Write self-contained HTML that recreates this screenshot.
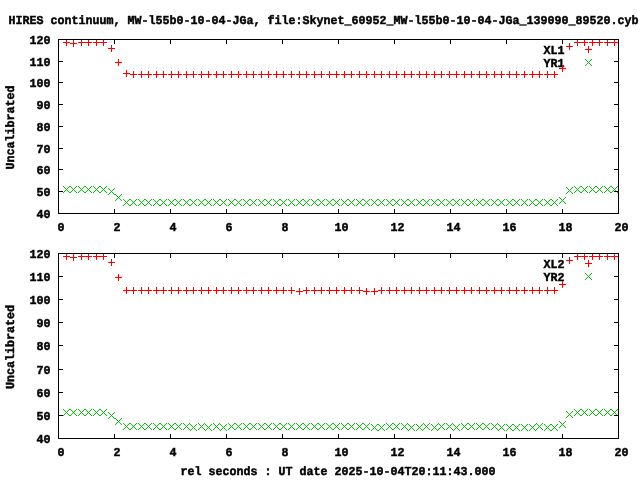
<!DOCTYPE html>
<html><head><meta charset="utf-8"><title>plot</title>
<style>
html,body{margin:0;padding:0;background:#fff;}
#wrap{position:relative;width:640px;height:480px;overflow:hidden;background:#fff;}
svg{display:block;position:absolute;left:0;top:0;}
#tx{will-change:transform;}
text{font-family:"Liberation Mono",monospace;font-weight:bold;font-size:11.67px;fill:#000;stroke:#000;stroke-width:0.45px;}
</style></head><body><div id="wrap">
<svg id="tx" width="640" height="480" viewBox="0 0 640 480">
<text transform="translate(8.5 24) scale(1 1.04) skewX(0.03)" textLength="630" lengthAdjust="spacing">HIRES continuum, MW-l55b0-10-04-JGa, file:Skynet_60952_MW-l55b0-10-04-JGa_139090_89520.cyb</text>
<text transform="translate(180.5 475) scale(1 1.04) skewX(0.03)" textLength="315" lengthAdjust="spacing">rel seconds : UT date 2025-10-04T20:11:43.000</text>
<text transform="translate(543.5 54) scale(1 1.04) skewX(0.03)" textLength="21" lengthAdjust="spacing">XL1</text>
<text transform="translate(543.5 67) scale(1 1.04) skewX(0.03)" textLength="21" lengthAdjust="spacing">YR1</text>
<text transform="translate(36.5 218) scale(1 1.04) skewX(0.03)" textLength="14" lengthAdjust="spacing">40</text>
<text transform="translate(36.5 196) scale(1 1.04) skewX(0.03)" textLength="14" lengthAdjust="spacing">50</text>
<text transform="translate(36.5 174) scale(1 1.04) skewX(0.03)" textLength="14" lengthAdjust="spacing">60</text>
<text transform="translate(36.5 153) scale(1 1.04) skewX(0.03)" textLength="14" lengthAdjust="spacing">70</text>
<text transform="translate(36.5 131) scale(1 1.04) skewX(0.03)" textLength="14" lengthAdjust="spacing">80</text>
<text transform="translate(36.5 109) scale(1 1.04) skewX(0.03)" textLength="14" lengthAdjust="spacing">90</text>
<text transform="translate(29.5 87) scale(1 1.04) skewX(0.03)" textLength="21" lengthAdjust="spacing">100</text>
<text transform="translate(29.5 66) scale(1 1.04) skewX(0.03)" textLength="21" lengthAdjust="spacing">110</text>
<text transform="translate(29.5 44) scale(1 1.04) skewX(0.03)" textLength="21" lengthAdjust="spacing">120</text>
<text transform="translate(57.5 231) scale(1 1.04) skewX(0.03)" textLength="7" lengthAdjust="spacing">0</text>
<text transform="translate(113.5 231) scale(1 1.04) skewX(0.03)" textLength="7" lengthAdjust="spacing">2</text>
<text transform="translate(169.5 231) scale(1 1.04) skewX(0.03)" textLength="7" lengthAdjust="spacing">4</text>
<text transform="translate(225.5 231) scale(1 1.04) skewX(0.03)" textLength="7" lengthAdjust="spacing">6</text>
<text transform="translate(281.5 231) scale(1 1.04) skewX(0.03)" textLength="7" lengthAdjust="spacing">8</text>
<text transform="translate(334.5 231) scale(1 1.04) skewX(0.03)" textLength="14" lengthAdjust="spacing">10</text>
<text transform="translate(390.5 231) scale(1 1.04) skewX(0.03)" textLength="14" lengthAdjust="spacing">12</text>
<text transform="translate(446.5 231) scale(1 1.04) skewX(0.03)" textLength="14" lengthAdjust="spacing">14</text>
<text transform="translate(502.5 231) scale(1 1.04) skewX(0.03)" textLength="14" lengthAdjust="spacing">16</text>
<text transform="translate(558.5 231) scale(1 1.04) skewX(0.03)" textLength="14" lengthAdjust="spacing">18</text>
<text transform="translate(614.5 231) scale(1 1.04) skewX(0.03)" textLength="14" lengthAdjust="spacing">20</text>
<text transform="translate(14 169.5) rotate(-90) scale(1 1.04) skewX(0.03)" textLength="84" lengthAdjust="spacing">Uncalibrated</text>
<text transform="translate(543.5 268) scale(1 1.04) skewX(0.03)" textLength="21" lengthAdjust="spacing">XL2</text>
<text transform="translate(543.5 281) scale(1 1.04) skewX(0.03)" textLength="21" lengthAdjust="spacing">YR2</text>
<text transform="translate(36.5 443) scale(1 1.04) skewX(0.03)" textLength="14" lengthAdjust="spacing">40</text>
<text transform="translate(36.5 420) scale(1 1.04) skewX(0.03)" textLength="14" lengthAdjust="spacing">50</text>
<text transform="translate(36.5 397) scale(1 1.04) skewX(0.03)" textLength="14" lengthAdjust="spacing">60</text>
<text transform="translate(36.5 374) scale(1 1.04) skewX(0.03)" textLength="14" lengthAdjust="spacing">70</text>
<text transform="translate(36.5 350) scale(1 1.04) skewX(0.03)" textLength="14" lengthAdjust="spacing">80</text>
<text transform="translate(36.5 327) scale(1 1.04) skewX(0.03)" textLength="14" lengthAdjust="spacing">90</text>
<text transform="translate(29.5 304) scale(1 1.04) skewX(0.03)" textLength="21" lengthAdjust="spacing">100</text>
<text transform="translate(29.5 281) scale(1 1.04) skewX(0.03)" textLength="21" lengthAdjust="spacing">110</text>
<text transform="translate(29.5 258) scale(1 1.04) skewX(0.03)" textLength="21" lengthAdjust="spacing">120</text>
<text transform="translate(57.5 456) scale(1 1.04) skewX(0.03)" textLength="7" lengthAdjust="spacing">0</text>
<text transform="translate(113.5 456) scale(1 1.04) skewX(0.03)" textLength="7" lengthAdjust="spacing">2</text>
<text transform="translate(169.5 456) scale(1 1.04) skewX(0.03)" textLength="7" lengthAdjust="spacing">4</text>
<text transform="translate(225.5 456) scale(1 1.04) skewX(0.03)" textLength="7" lengthAdjust="spacing">6</text>
<text transform="translate(281.5 456) scale(1 1.04) skewX(0.03)" textLength="7" lengthAdjust="spacing">8</text>
<text transform="translate(334.5 456) scale(1 1.04) skewX(0.03)" textLength="14" lengthAdjust="spacing">10</text>
<text transform="translate(390.5 456) scale(1 1.04) skewX(0.03)" textLength="14" lengthAdjust="spacing">12</text>
<text transform="translate(446.5 456) scale(1 1.04) skewX(0.03)" textLength="14" lengthAdjust="spacing">14</text>
<text transform="translate(502.5 456) scale(1 1.04) skewX(0.03)" textLength="14" lengthAdjust="spacing">16</text>
<text transform="translate(558.5 456) scale(1 1.04) skewX(0.03)" textLength="14" lengthAdjust="spacing">18</text>
<text transform="translate(614.5 456) scale(1 1.04) skewX(0.03)" textLength="14" lengthAdjust="spacing">20</text>
<text transform="translate(14 389.0) rotate(-90) scale(1 1.04) skewX(0.03)" textLength="84" lengthAdjust="spacing">Uncalibrated</text>
</svg>
<svg width="640" height="480" viewBox="0 0 640 480" shape-rendering="crispEdges">
<path fill="#ff0000" d="M63 42h7v1h-7zM66 39h1v7h-1z"/>
<path fill="#ff0000" d="M70 43h7v1h-7zM73 40h1v7h-1z"/>
<path fill="#ff0000" d="M78 42h7v1h-7zM81 39h1v7h-1z"/>
<path fill="#ff0000" d="M85 42h7v1h-7zM88 39h1v7h-1z"/>
<path fill="#ff0000" d="M93 42h7v1h-7zM96 39h1v7h-1z"/>
<path fill="#ff0000" d="M100 42h7v1h-7zM103 39h1v7h-1z"/>
<path fill="#ff0000" d="M108 48h7v1h-7zM111 45h1v7h-1z"/>
<path fill="#ff0000" d="M115 62h7v1h-7zM118 59h1v7h-1z"/>
<path fill="#ff0000" d="M123 73h7v1h-7zM126 70h1v7h-1z"/>
<path fill="#ff0000" d="M130 74h7v1h-7zM133 71h1v7h-1z"/>
<path fill="#ff0000" d="M138 74h7v1h-7zM141 71h1v7h-1z"/>
<path fill="#ff0000" d="M145 74h7v1h-7zM148 71h1v7h-1z"/>
<path fill="#ff0000" d="M153 74h7v1h-7zM156 71h1v7h-1z"/>
<path fill="#ff0000" d="M160 74h7v1h-7zM163 71h1v7h-1z"/>
<path fill="#ff0000" d="M168 74h7v1h-7zM171 71h1v7h-1z"/>
<path fill="#ff0000" d="M175 74h7v1h-7zM178 71h1v7h-1z"/>
<path fill="#ff0000" d="M183 74h7v1h-7zM186 71h1v7h-1z"/>
<path fill="#ff0000" d="M190 74h7v1h-7zM193 71h1v7h-1z"/>
<path fill="#ff0000" d="M198 74h7v1h-7zM201 71h1v7h-1z"/>
<path fill="#ff0000" d="M205 74h7v1h-7zM208 71h1v7h-1z"/>
<path fill="#ff0000" d="M213 74h7v1h-7zM216 71h1v7h-1z"/>
<path fill="#ff0000" d="M220 74h7v1h-7zM223 71h1v7h-1z"/>
<path fill="#ff0000" d="M228 74h7v1h-7zM231 71h1v7h-1z"/>
<path fill="#ff0000" d="M235 74h7v1h-7zM238 71h1v7h-1z"/>
<path fill="#ff0000" d="M243 74h7v1h-7zM246 71h1v7h-1z"/>
<path fill="#ff0000" d="M250 74h7v1h-7zM253 71h1v7h-1z"/>
<path fill="#ff0000" d="M258 74h7v1h-7zM261 71h1v7h-1z"/>
<path fill="#ff0000" d="M265 74h7v1h-7zM268 71h1v7h-1z"/>
<path fill="#ff0000" d="M273 74h7v1h-7zM276 71h1v7h-1z"/>
<path fill="#ff0000" d="M280 74h7v1h-7zM283 71h1v7h-1z"/>
<path fill="#ff0000" d="M288 74h7v1h-7zM291 71h1v7h-1z"/>
<path fill="#ff0000" d="M296 74h7v1h-7zM299 71h1v7h-1z"/>
<path fill="#ff0000" d="M303 74h7v1h-7zM306 71h1v7h-1z"/>
<path fill="#ff0000" d="M311 74h7v1h-7zM314 71h1v7h-1z"/>
<path fill="#ff0000" d="M318 74h7v1h-7zM321 71h1v7h-1z"/>
<path fill="#ff0000" d="M326 74h7v1h-7zM329 71h1v7h-1z"/>
<path fill="#ff0000" d="M333 74h7v1h-7zM336 71h1v7h-1z"/>
<path fill="#ff0000" d="M341 74h7v1h-7zM344 71h1v7h-1z"/>
<path fill="#ff0000" d="M348 74h7v1h-7zM351 71h1v7h-1z"/>
<path fill="#ff0000" d="M356 74h7v1h-7zM359 71h1v7h-1z"/>
<path fill="#ff0000" d="M363 74h7v1h-7zM366 71h1v7h-1z"/>
<path fill="#ff0000" d="M371 74h7v1h-7zM374 71h1v7h-1z"/>
<path fill="#ff0000" d="M378 74h7v1h-7zM381 71h1v7h-1z"/>
<path fill="#ff0000" d="M386 74h7v1h-7zM389 71h1v7h-1z"/>
<path fill="#ff0000" d="M393 74h7v1h-7zM396 71h1v7h-1z"/>
<path fill="#ff0000" d="M401 74h7v1h-7zM404 71h1v7h-1z"/>
<path fill="#ff0000" d="M408 74h7v1h-7zM411 71h1v7h-1z"/>
<path fill="#ff0000" d="M416 74h7v1h-7zM419 71h1v7h-1z"/>
<path fill="#ff0000" d="M423 74h7v1h-7zM426 71h1v7h-1z"/>
<path fill="#ff0000" d="M431 74h7v1h-7zM434 71h1v7h-1z"/>
<path fill="#ff0000" d="M438 74h7v1h-7zM441 71h1v7h-1z"/>
<path fill="#ff0000" d="M446 74h7v1h-7zM449 71h1v7h-1z"/>
<path fill="#ff0000" d="M453 74h7v1h-7zM456 71h1v7h-1z"/>
<path fill="#ff0000" d="M461 74h7v1h-7zM464 71h1v7h-1z"/>
<path fill="#ff0000" d="M468 74h7v1h-7zM471 71h1v7h-1z"/>
<path fill="#ff0000" d="M476 74h7v1h-7zM479 71h1v7h-1z"/>
<path fill="#ff0000" d="M483 74h7v1h-7zM486 71h1v7h-1z"/>
<path fill="#ff0000" d="M491 74h7v1h-7zM494 71h1v7h-1z"/>
<path fill="#ff0000" d="M498 74h7v1h-7zM501 71h1v7h-1z"/>
<path fill="#ff0000" d="M506 74h7v1h-7zM509 71h1v7h-1z"/>
<path fill="#ff0000" d="M513 74h7v1h-7zM516 71h1v7h-1z"/>
<path fill="#ff0000" d="M521 74h7v1h-7zM524 71h1v7h-1z"/>
<path fill="#ff0000" d="M529 74h7v1h-7zM532 71h1v7h-1z"/>
<path fill="#ff0000" d="M536 74h7v1h-7zM539 71h1v7h-1z"/>
<path fill="#ff0000" d="M544 74h7v1h-7zM547 71h1v7h-1z"/>
<path fill="#ff0000" d="M551 74h7v1h-7zM554 71h1v7h-1z"/>
<path fill="#ff0000" d="M559 68h7v1h-7zM562 65h1v7h-1z"/>
<path fill="#ff0000" d="M566 46h7v1h-7zM569 43h1v7h-1z"/>
<path fill="#ff0000" d="M574 42h7v1h-7zM577 39h1v7h-1z"/>
<path fill="#ff0000" d="M581 42h7v1h-7zM584 39h1v7h-1z"/>
<path fill="#ff0000" d="M589 42h7v1h-7zM592 39h1v7h-1z"/>
<path fill="#ff0000" d="M596 42h7v1h-7zM599 39h1v7h-1z"/>
<path fill="#ff0000" d="M604 42h7v1h-7zM607 39h1v7h-1z"/>
<path fill="#ff0000" d="M611 42h7v1h-7zM614 39h1v7h-1z"/>
<path fill="#00c000" d="M63 186h1v1h-1zM63 192h1v1h-1zM64 187h1v1h-1zM64 191h1v1h-1zM65 188h1v1h-1zM65 190h1v1h-1zM66 189h1v1h-1zM67 190h1v1h-1zM67 188h1v1h-1zM68 191h1v1h-1zM68 187h1v1h-1zM69 192h1v1h-1zM69 186h1v1h-1z"/>
<path fill="#00c000" d="M70 186h1v1h-1zM70 192h1v1h-1zM71 187h1v1h-1zM71 191h1v1h-1zM72 188h1v1h-1zM72 190h1v1h-1zM73 189h1v1h-1zM74 190h1v1h-1zM74 188h1v1h-1zM75 191h1v1h-1zM75 187h1v1h-1zM76 192h1v1h-1zM76 186h1v1h-1z"/>
<path fill="#00c000" d="M78 186h1v1h-1zM78 192h1v1h-1zM79 187h1v1h-1zM79 191h1v1h-1zM80 188h1v1h-1zM80 190h1v1h-1zM81 189h1v1h-1zM82 190h1v1h-1zM82 188h1v1h-1zM83 191h1v1h-1zM83 187h1v1h-1zM84 192h1v1h-1zM84 186h1v1h-1z"/>
<path fill="#00c000" d="M85 186h1v1h-1zM85 192h1v1h-1zM86 187h1v1h-1zM86 191h1v1h-1zM87 188h1v1h-1zM87 190h1v1h-1zM88 189h1v1h-1zM89 190h1v1h-1zM89 188h1v1h-1zM90 191h1v1h-1zM90 187h1v1h-1zM91 192h1v1h-1zM91 186h1v1h-1z"/>
<path fill="#00c000" d="M93 186h1v1h-1zM93 192h1v1h-1zM94 187h1v1h-1zM94 191h1v1h-1zM95 188h1v1h-1zM95 190h1v1h-1zM96 189h1v1h-1zM97 190h1v1h-1zM97 188h1v1h-1zM98 191h1v1h-1zM98 187h1v1h-1zM99 192h1v1h-1zM99 186h1v1h-1z"/>
<path fill="#00c000" d="M100 186h1v1h-1zM100 192h1v1h-1zM101 187h1v1h-1zM101 191h1v1h-1zM102 188h1v1h-1zM102 190h1v1h-1zM103 189h1v1h-1zM104 190h1v1h-1zM104 188h1v1h-1zM105 191h1v1h-1zM105 187h1v1h-1zM106 192h1v1h-1zM106 186h1v1h-1z"/>
<path fill="#00c000" d="M108 188h1v1h-1zM108 194h1v1h-1zM109 189h1v1h-1zM109 193h1v1h-1zM110 190h1v1h-1zM110 192h1v1h-1zM111 191h1v1h-1zM112 192h1v1h-1zM112 190h1v1h-1zM113 193h1v1h-1zM113 189h1v1h-1zM114 194h1v1h-1zM114 188h1v1h-1z"/>
<path fill="#00c000" d="M115 194h1v1h-1zM115 200h1v1h-1zM116 195h1v1h-1zM116 199h1v1h-1zM117 196h1v1h-1zM117 198h1v1h-1zM118 197h1v1h-1zM119 198h1v1h-1zM119 196h1v1h-1zM120 199h1v1h-1zM120 195h1v1h-1zM121 200h1v1h-1zM121 194h1v1h-1z"/>
<path fill="#00c000" d="M123 199h1v1h-1zM123 205h1v1h-1zM124 200h1v1h-1zM124 204h1v1h-1zM125 201h1v1h-1zM125 203h1v1h-1zM126 202h1v1h-1zM127 203h1v1h-1zM127 201h1v1h-1zM128 204h1v1h-1zM128 200h1v1h-1zM129 205h1v1h-1zM129 199h1v1h-1z"/>
<path fill="#00c000" d="M130 199h1v1h-1zM130 205h1v1h-1zM131 200h1v1h-1zM131 204h1v1h-1zM132 201h1v1h-1zM132 203h1v1h-1zM133 202h1v1h-1zM134 203h1v1h-1zM134 201h1v1h-1zM135 204h1v1h-1zM135 200h1v1h-1zM136 205h1v1h-1zM136 199h1v1h-1z"/>
<path fill="#00c000" d="M138 199h1v1h-1zM138 205h1v1h-1zM139 200h1v1h-1zM139 204h1v1h-1zM140 201h1v1h-1zM140 203h1v1h-1zM141 202h1v1h-1zM142 203h1v1h-1zM142 201h1v1h-1zM143 204h1v1h-1zM143 200h1v1h-1zM144 205h1v1h-1zM144 199h1v1h-1z"/>
<path fill="#00c000" d="M145 199h1v1h-1zM145 205h1v1h-1zM146 200h1v1h-1zM146 204h1v1h-1zM147 201h1v1h-1zM147 203h1v1h-1zM148 202h1v1h-1zM149 203h1v1h-1zM149 201h1v1h-1zM150 204h1v1h-1zM150 200h1v1h-1zM151 205h1v1h-1zM151 199h1v1h-1z"/>
<path fill="#00c000" d="M153 199h1v1h-1zM153 205h1v1h-1zM154 200h1v1h-1zM154 204h1v1h-1zM155 201h1v1h-1zM155 203h1v1h-1zM156 202h1v1h-1zM157 203h1v1h-1zM157 201h1v1h-1zM158 204h1v1h-1zM158 200h1v1h-1zM159 205h1v1h-1zM159 199h1v1h-1z"/>
<path fill="#00c000" d="M160 199h1v1h-1zM160 205h1v1h-1zM161 200h1v1h-1zM161 204h1v1h-1zM162 201h1v1h-1zM162 203h1v1h-1zM163 202h1v1h-1zM164 203h1v1h-1zM164 201h1v1h-1zM165 204h1v1h-1zM165 200h1v1h-1zM166 205h1v1h-1zM166 199h1v1h-1z"/>
<path fill="#00c000" d="M168 199h1v1h-1zM168 205h1v1h-1zM169 200h1v1h-1zM169 204h1v1h-1zM170 201h1v1h-1zM170 203h1v1h-1zM171 202h1v1h-1zM172 203h1v1h-1zM172 201h1v1h-1zM173 204h1v1h-1zM173 200h1v1h-1zM174 205h1v1h-1zM174 199h1v1h-1z"/>
<path fill="#00c000" d="M175 199h1v1h-1zM175 205h1v1h-1zM176 200h1v1h-1zM176 204h1v1h-1zM177 201h1v1h-1zM177 203h1v1h-1zM178 202h1v1h-1zM179 203h1v1h-1zM179 201h1v1h-1zM180 204h1v1h-1zM180 200h1v1h-1zM181 205h1v1h-1zM181 199h1v1h-1z"/>
<path fill="#00c000" d="M183 199h1v1h-1zM183 205h1v1h-1zM184 200h1v1h-1zM184 204h1v1h-1zM185 201h1v1h-1zM185 203h1v1h-1zM186 202h1v1h-1zM187 203h1v1h-1zM187 201h1v1h-1zM188 204h1v1h-1zM188 200h1v1h-1zM189 205h1v1h-1zM189 199h1v1h-1z"/>
<path fill="#00c000" d="M190 199h1v1h-1zM190 205h1v1h-1zM191 200h1v1h-1zM191 204h1v1h-1zM192 201h1v1h-1zM192 203h1v1h-1zM193 202h1v1h-1zM194 203h1v1h-1zM194 201h1v1h-1zM195 204h1v1h-1zM195 200h1v1h-1zM196 205h1v1h-1zM196 199h1v1h-1z"/>
<path fill="#00c000" d="M198 199h1v1h-1zM198 205h1v1h-1zM199 200h1v1h-1zM199 204h1v1h-1zM200 201h1v1h-1zM200 203h1v1h-1zM201 202h1v1h-1zM202 203h1v1h-1zM202 201h1v1h-1zM203 204h1v1h-1zM203 200h1v1h-1zM204 205h1v1h-1zM204 199h1v1h-1z"/>
<path fill="#00c000" d="M205 199h1v1h-1zM205 205h1v1h-1zM206 200h1v1h-1zM206 204h1v1h-1zM207 201h1v1h-1zM207 203h1v1h-1zM208 202h1v1h-1zM209 203h1v1h-1zM209 201h1v1h-1zM210 204h1v1h-1zM210 200h1v1h-1zM211 205h1v1h-1zM211 199h1v1h-1z"/>
<path fill="#00c000" d="M213 199h1v1h-1zM213 205h1v1h-1zM214 200h1v1h-1zM214 204h1v1h-1zM215 201h1v1h-1zM215 203h1v1h-1zM216 202h1v1h-1zM217 203h1v1h-1zM217 201h1v1h-1zM218 204h1v1h-1zM218 200h1v1h-1zM219 205h1v1h-1zM219 199h1v1h-1z"/>
<path fill="#00c000" d="M220 199h1v1h-1zM220 205h1v1h-1zM221 200h1v1h-1zM221 204h1v1h-1zM222 201h1v1h-1zM222 203h1v1h-1zM223 202h1v1h-1zM224 203h1v1h-1zM224 201h1v1h-1zM225 204h1v1h-1zM225 200h1v1h-1zM226 205h1v1h-1zM226 199h1v1h-1z"/>
<path fill="#00c000" d="M228 199h1v1h-1zM228 205h1v1h-1zM229 200h1v1h-1zM229 204h1v1h-1zM230 201h1v1h-1zM230 203h1v1h-1zM231 202h1v1h-1zM232 203h1v1h-1zM232 201h1v1h-1zM233 204h1v1h-1zM233 200h1v1h-1zM234 205h1v1h-1zM234 199h1v1h-1z"/>
<path fill="#00c000" d="M235 199h1v1h-1zM235 205h1v1h-1zM236 200h1v1h-1zM236 204h1v1h-1zM237 201h1v1h-1zM237 203h1v1h-1zM238 202h1v1h-1zM239 203h1v1h-1zM239 201h1v1h-1zM240 204h1v1h-1zM240 200h1v1h-1zM241 205h1v1h-1zM241 199h1v1h-1z"/>
<path fill="#00c000" d="M243 199h1v1h-1zM243 205h1v1h-1zM244 200h1v1h-1zM244 204h1v1h-1zM245 201h1v1h-1zM245 203h1v1h-1zM246 202h1v1h-1zM247 203h1v1h-1zM247 201h1v1h-1zM248 204h1v1h-1zM248 200h1v1h-1zM249 205h1v1h-1zM249 199h1v1h-1z"/>
<path fill="#00c000" d="M250 199h1v1h-1zM250 205h1v1h-1zM251 200h1v1h-1zM251 204h1v1h-1zM252 201h1v1h-1zM252 203h1v1h-1zM253 202h1v1h-1zM254 203h1v1h-1zM254 201h1v1h-1zM255 204h1v1h-1zM255 200h1v1h-1zM256 205h1v1h-1zM256 199h1v1h-1z"/>
<path fill="#00c000" d="M258 199h1v1h-1zM258 205h1v1h-1zM259 200h1v1h-1zM259 204h1v1h-1zM260 201h1v1h-1zM260 203h1v1h-1zM261 202h1v1h-1zM262 203h1v1h-1zM262 201h1v1h-1zM263 204h1v1h-1zM263 200h1v1h-1zM264 205h1v1h-1zM264 199h1v1h-1z"/>
<path fill="#00c000" d="M265 199h1v1h-1zM265 205h1v1h-1zM266 200h1v1h-1zM266 204h1v1h-1zM267 201h1v1h-1zM267 203h1v1h-1zM268 202h1v1h-1zM269 203h1v1h-1zM269 201h1v1h-1zM270 204h1v1h-1zM270 200h1v1h-1zM271 205h1v1h-1zM271 199h1v1h-1z"/>
<path fill="#00c000" d="M273 199h1v1h-1zM273 205h1v1h-1zM274 200h1v1h-1zM274 204h1v1h-1zM275 201h1v1h-1zM275 203h1v1h-1zM276 202h1v1h-1zM277 203h1v1h-1zM277 201h1v1h-1zM278 204h1v1h-1zM278 200h1v1h-1zM279 205h1v1h-1zM279 199h1v1h-1z"/>
<path fill="#00c000" d="M280 199h1v1h-1zM280 205h1v1h-1zM281 200h1v1h-1zM281 204h1v1h-1zM282 201h1v1h-1zM282 203h1v1h-1zM283 202h1v1h-1zM284 203h1v1h-1zM284 201h1v1h-1zM285 204h1v1h-1zM285 200h1v1h-1zM286 205h1v1h-1zM286 199h1v1h-1z"/>
<path fill="#00c000" d="M288 199h1v1h-1zM288 205h1v1h-1zM289 200h1v1h-1zM289 204h1v1h-1zM290 201h1v1h-1zM290 203h1v1h-1zM291 202h1v1h-1zM292 203h1v1h-1zM292 201h1v1h-1zM293 204h1v1h-1zM293 200h1v1h-1zM294 205h1v1h-1zM294 199h1v1h-1z"/>
<path fill="#00c000" d="M296 199h1v1h-1zM296 205h1v1h-1zM297 200h1v1h-1zM297 204h1v1h-1zM298 201h1v1h-1zM298 203h1v1h-1zM299 202h1v1h-1zM300 203h1v1h-1zM300 201h1v1h-1zM301 204h1v1h-1zM301 200h1v1h-1zM302 205h1v1h-1zM302 199h1v1h-1z"/>
<path fill="#00c000" d="M303 199h1v1h-1zM303 205h1v1h-1zM304 200h1v1h-1zM304 204h1v1h-1zM305 201h1v1h-1zM305 203h1v1h-1zM306 202h1v1h-1zM307 203h1v1h-1zM307 201h1v1h-1zM308 204h1v1h-1zM308 200h1v1h-1zM309 205h1v1h-1zM309 199h1v1h-1z"/>
<path fill="#00c000" d="M311 199h1v1h-1zM311 205h1v1h-1zM312 200h1v1h-1zM312 204h1v1h-1zM313 201h1v1h-1zM313 203h1v1h-1zM314 202h1v1h-1zM315 203h1v1h-1zM315 201h1v1h-1zM316 204h1v1h-1zM316 200h1v1h-1zM317 205h1v1h-1zM317 199h1v1h-1z"/>
<path fill="#00c000" d="M318 199h1v1h-1zM318 205h1v1h-1zM319 200h1v1h-1zM319 204h1v1h-1zM320 201h1v1h-1zM320 203h1v1h-1zM321 202h1v1h-1zM322 203h1v1h-1zM322 201h1v1h-1zM323 204h1v1h-1zM323 200h1v1h-1zM324 205h1v1h-1zM324 199h1v1h-1z"/>
<path fill="#00c000" d="M326 199h1v1h-1zM326 205h1v1h-1zM327 200h1v1h-1zM327 204h1v1h-1zM328 201h1v1h-1zM328 203h1v1h-1zM329 202h1v1h-1zM330 203h1v1h-1zM330 201h1v1h-1zM331 204h1v1h-1zM331 200h1v1h-1zM332 205h1v1h-1zM332 199h1v1h-1z"/>
<path fill="#00c000" d="M333 199h1v1h-1zM333 205h1v1h-1zM334 200h1v1h-1zM334 204h1v1h-1zM335 201h1v1h-1zM335 203h1v1h-1zM336 202h1v1h-1zM337 203h1v1h-1zM337 201h1v1h-1zM338 204h1v1h-1zM338 200h1v1h-1zM339 205h1v1h-1zM339 199h1v1h-1z"/>
<path fill="#00c000" d="M341 199h1v1h-1zM341 205h1v1h-1zM342 200h1v1h-1zM342 204h1v1h-1zM343 201h1v1h-1zM343 203h1v1h-1zM344 202h1v1h-1zM345 203h1v1h-1zM345 201h1v1h-1zM346 204h1v1h-1zM346 200h1v1h-1zM347 205h1v1h-1zM347 199h1v1h-1z"/>
<path fill="#00c000" d="M348 199h1v1h-1zM348 205h1v1h-1zM349 200h1v1h-1zM349 204h1v1h-1zM350 201h1v1h-1zM350 203h1v1h-1zM351 202h1v1h-1zM352 203h1v1h-1zM352 201h1v1h-1zM353 204h1v1h-1zM353 200h1v1h-1zM354 205h1v1h-1zM354 199h1v1h-1z"/>
<path fill="#00c000" d="M356 199h1v1h-1zM356 205h1v1h-1zM357 200h1v1h-1zM357 204h1v1h-1zM358 201h1v1h-1zM358 203h1v1h-1zM359 202h1v1h-1zM360 203h1v1h-1zM360 201h1v1h-1zM361 204h1v1h-1zM361 200h1v1h-1zM362 205h1v1h-1zM362 199h1v1h-1z"/>
<path fill="#00c000" d="M363 199h1v1h-1zM363 205h1v1h-1zM364 200h1v1h-1zM364 204h1v1h-1zM365 201h1v1h-1zM365 203h1v1h-1zM366 202h1v1h-1zM367 203h1v1h-1zM367 201h1v1h-1zM368 204h1v1h-1zM368 200h1v1h-1zM369 205h1v1h-1zM369 199h1v1h-1z"/>
<path fill="#00c000" d="M371 199h1v1h-1zM371 205h1v1h-1zM372 200h1v1h-1zM372 204h1v1h-1zM373 201h1v1h-1zM373 203h1v1h-1zM374 202h1v1h-1zM375 203h1v1h-1zM375 201h1v1h-1zM376 204h1v1h-1zM376 200h1v1h-1zM377 205h1v1h-1zM377 199h1v1h-1z"/>
<path fill="#00c000" d="M378 199h1v1h-1zM378 205h1v1h-1zM379 200h1v1h-1zM379 204h1v1h-1zM380 201h1v1h-1zM380 203h1v1h-1zM381 202h1v1h-1zM382 203h1v1h-1zM382 201h1v1h-1zM383 204h1v1h-1zM383 200h1v1h-1zM384 205h1v1h-1zM384 199h1v1h-1z"/>
<path fill="#00c000" d="M386 199h1v1h-1zM386 205h1v1h-1zM387 200h1v1h-1zM387 204h1v1h-1zM388 201h1v1h-1zM388 203h1v1h-1zM389 202h1v1h-1zM390 203h1v1h-1zM390 201h1v1h-1zM391 204h1v1h-1zM391 200h1v1h-1zM392 205h1v1h-1zM392 199h1v1h-1z"/>
<path fill="#00c000" d="M393 199h1v1h-1zM393 205h1v1h-1zM394 200h1v1h-1zM394 204h1v1h-1zM395 201h1v1h-1zM395 203h1v1h-1zM396 202h1v1h-1zM397 203h1v1h-1zM397 201h1v1h-1zM398 204h1v1h-1zM398 200h1v1h-1zM399 205h1v1h-1zM399 199h1v1h-1z"/>
<path fill="#00c000" d="M401 199h1v1h-1zM401 205h1v1h-1zM402 200h1v1h-1zM402 204h1v1h-1zM403 201h1v1h-1zM403 203h1v1h-1zM404 202h1v1h-1zM405 203h1v1h-1zM405 201h1v1h-1zM406 204h1v1h-1zM406 200h1v1h-1zM407 205h1v1h-1zM407 199h1v1h-1z"/>
<path fill="#00c000" d="M408 199h1v1h-1zM408 205h1v1h-1zM409 200h1v1h-1zM409 204h1v1h-1zM410 201h1v1h-1zM410 203h1v1h-1zM411 202h1v1h-1zM412 203h1v1h-1zM412 201h1v1h-1zM413 204h1v1h-1zM413 200h1v1h-1zM414 205h1v1h-1zM414 199h1v1h-1z"/>
<path fill="#00c000" d="M416 199h1v1h-1zM416 205h1v1h-1zM417 200h1v1h-1zM417 204h1v1h-1zM418 201h1v1h-1zM418 203h1v1h-1zM419 202h1v1h-1zM420 203h1v1h-1zM420 201h1v1h-1zM421 204h1v1h-1zM421 200h1v1h-1zM422 205h1v1h-1zM422 199h1v1h-1z"/>
<path fill="#00c000" d="M423 199h1v1h-1zM423 205h1v1h-1zM424 200h1v1h-1zM424 204h1v1h-1zM425 201h1v1h-1zM425 203h1v1h-1zM426 202h1v1h-1zM427 203h1v1h-1zM427 201h1v1h-1zM428 204h1v1h-1zM428 200h1v1h-1zM429 205h1v1h-1zM429 199h1v1h-1z"/>
<path fill="#00c000" d="M431 199h1v1h-1zM431 205h1v1h-1zM432 200h1v1h-1zM432 204h1v1h-1zM433 201h1v1h-1zM433 203h1v1h-1zM434 202h1v1h-1zM435 203h1v1h-1zM435 201h1v1h-1zM436 204h1v1h-1zM436 200h1v1h-1zM437 205h1v1h-1zM437 199h1v1h-1z"/>
<path fill="#00c000" d="M438 199h1v1h-1zM438 205h1v1h-1zM439 200h1v1h-1zM439 204h1v1h-1zM440 201h1v1h-1zM440 203h1v1h-1zM441 202h1v1h-1zM442 203h1v1h-1zM442 201h1v1h-1zM443 204h1v1h-1zM443 200h1v1h-1zM444 205h1v1h-1zM444 199h1v1h-1z"/>
<path fill="#00c000" d="M446 199h1v1h-1zM446 205h1v1h-1zM447 200h1v1h-1zM447 204h1v1h-1zM448 201h1v1h-1zM448 203h1v1h-1zM449 202h1v1h-1zM450 203h1v1h-1zM450 201h1v1h-1zM451 204h1v1h-1zM451 200h1v1h-1zM452 205h1v1h-1zM452 199h1v1h-1z"/>
<path fill="#00c000" d="M453 199h1v1h-1zM453 205h1v1h-1zM454 200h1v1h-1zM454 204h1v1h-1zM455 201h1v1h-1zM455 203h1v1h-1zM456 202h1v1h-1zM457 203h1v1h-1zM457 201h1v1h-1zM458 204h1v1h-1zM458 200h1v1h-1zM459 205h1v1h-1zM459 199h1v1h-1z"/>
<path fill="#00c000" d="M461 199h1v1h-1zM461 205h1v1h-1zM462 200h1v1h-1zM462 204h1v1h-1zM463 201h1v1h-1zM463 203h1v1h-1zM464 202h1v1h-1zM465 203h1v1h-1zM465 201h1v1h-1zM466 204h1v1h-1zM466 200h1v1h-1zM467 205h1v1h-1zM467 199h1v1h-1z"/>
<path fill="#00c000" d="M468 199h1v1h-1zM468 205h1v1h-1zM469 200h1v1h-1zM469 204h1v1h-1zM470 201h1v1h-1zM470 203h1v1h-1zM471 202h1v1h-1zM472 203h1v1h-1zM472 201h1v1h-1zM473 204h1v1h-1zM473 200h1v1h-1zM474 205h1v1h-1zM474 199h1v1h-1z"/>
<path fill="#00c000" d="M476 199h1v1h-1zM476 205h1v1h-1zM477 200h1v1h-1zM477 204h1v1h-1zM478 201h1v1h-1zM478 203h1v1h-1zM479 202h1v1h-1zM480 203h1v1h-1zM480 201h1v1h-1zM481 204h1v1h-1zM481 200h1v1h-1zM482 205h1v1h-1zM482 199h1v1h-1z"/>
<path fill="#00c000" d="M483 199h1v1h-1zM483 205h1v1h-1zM484 200h1v1h-1zM484 204h1v1h-1zM485 201h1v1h-1zM485 203h1v1h-1zM486 202h1v1h-1zM487 203h1v1h-1zM487 201h1v1h-1zM488 204h1v1h-1zM488 200h1v1h-1zM489 205h1v1h-1zM489 199h1v1h-1z"/>
<path fill="#00c000" d="M491 199h1v1h-1zM491 205h1v1h-1zM492 200h1v1h-1zM492 204h1v1h-1zM493 201h1v1h-1zM493 203h1v1h-1zM494 202h1v1h-1zM495 203h1v1h-1zM495 201h1v1h-1zM496 204h1v1h-1zM496 200h1v1h-1zM497 205h1v1h-1zM497 199h1v1h-1z"/>
<path fill="#00c000" d="M498 199h1v1h-1zM498 205h1v1h-1zM499 200h1v1h-1zM499 204h1v1h-1zM500 201h1v1h-1zM500 203h1v1h-1zM501 202h1v1h-1zM502 203h1v1h-1zM502 201h1v1h-1zM503 204h1v1h-1zM503 200h1v1h-1zM504 205h1v1h-1zM504 199h1v1h-1z"/>
<path fill="#00c000" d="M506 199h1v1h-1zM506 205h1v1h-1zM507 200h1v1h-1zM507 204h1v1h-1zM508 201h1v1h-1zM508 203h1v1h-1zM509 202h1v1h-1zM510 203h1v1h-1zM510 201h1v1h-1zM511 204h1v1h-1zM511 200h1v1h-1zM512 205h1v1h-1zM512 199h1v1h-1z"/>
<path fill="#00c000" d="M513 199h1v1h-1zM513 205h1v1h-1zM514 200h1v1h-1zM514 204h1v1h-1zM515 201h1v1h-1zM515 203h1v1h-1zM516 202h1v1h-1zM517 203h1v1h-1zM517 201h1v1h-1zM518 204h1v1h-1zM518 200h1v1h-1zM519 205h1v1h-1zM519 199h1v1h-1z"/>
<path fill="#00c000" d="M521 199h1v1h-1zM521 205h1v1h-1zM522 200h1v1h-1zM522 204h1v1h-1zM523 201h1v1h-1zM523 203h1v1h-1zM524 202h1v1h-1zM525 203h1v1h-1zM525 201h1v1h-1zM526 204h1v1h-1zM526 200h1v1h-1zM527 205h1v1h-1zM527 199h1v1h-1z"/>
<path fill="#00c000" d="M529 199h1v1h-1zM529 205h1v1h-1zM530 200h1v1h-1zM530 204h1v1h-1zM531 201h1v1h-1zM531 203h1v1h-1zM532 202h1v1h-1zM533 203h1v1h-1zM533 201h1v1h-1zM534 204h1v1h-1zM534 200h1v1h-1zM535 205h1v1h-1zM535 199h1v1h-1z"/>
<path fill="#00c000" d="M536 199h1v1h-1zM536 205h1v1h-1zM537 200h1v1h-1zM537 204h1v1h-1zM538 201h1v1h-1zM538 203h1v1h-1zM539 202h1v1h-1zM540 203h1v1h-1zM540 201h1v1h-1zM541 204h1v1h-1zM541 200h1v1h-1zM542 205h1v1h-1zM542 199h1v1h-1z"/>
<path fill="#00c000" d="M544 199h1v1h-1zM544 205h1v1h-1zM545 200h1v1h-1zM545 204h1v1h-1zM546 201h1v1h-1zM546 203h1v1h-1zM547 202h1v1h-1zM548 203h1v1h-1zM548 201h1v1h-1zM549 204h1v1h-1zM549 200h1v1h-1zM550 205h1v1h-1zM550 199h1v1h-1z"/>
<path fill="#00c000" d="M551 199h1v1h-1zM551 205h1v1h-1zM552 200h1v1h-1zM552 204h1v1h-1zM553 201h1v1h-1zM553 203h1v1h-1zM554 202h1v1h-1zM555 203h1v1h-1zM555 201h1v1h-1zM556 204h1v1h-1zM556 200h1v1h-1zM557 205h1v1h-1zM557 199h1v1h-1z"/>
<path fill="#00c000" d="M559 197h1v1h-1zM559 203h1v1h-1zM560 198h1v1h-1zM560 202h1v1h-1zM561 199h1v1h-1zM561 201h1v1h-1zM562 200h1v1h-1zM563 201h1v1h-1zM563 199h1v1h-1zM564 202h1v1h-1zM564 198h1v1h-1zM565 203h1v1h-1zM565 197h1v1h-1z"/>
<path fill="#00c000" d="M566 187h1v1h-1zM566 193h1v1h-1zM567 188h1v1h-1zM567 192h1v1h-1zM568 189h1v1h-1zM568 191h1v1h-1zM569 190h1v1h-1zM570 191h1v1h-1zM570 189h1v1h-1zM571 192h1v1h-1zM571 188h1v1h-1zM572 193h1v1h-1zM572 187h1v1h-1z"/>
<path fill="#00c000" d="M574 186h1v1h-1zM574 192h1v1h-1zM575 187h1v1h-1zM575 191h1v1h-1zM576 188h1v1h-1zM576 190h1v1h-1zM577 189h1v1h-1zM578 190h1v1h-1zM578 188h1v1h-1zM579 191h1v1h-1zM579 187h1v1h-1zM580 192h1v1h-1zM580 186h1v1h-1z"/>
<path fill="#00c000" d="M581 186h1v1h-1zM581 192h1v1h-1zM582 187h1v1h-1zM582 191h1v1h-1zM583 188h1v1h-1zM583 190h1v1h-1zM584 189h1v1h-1zM585 190h1v1h-1zM585 188h1v1h-1zM586 191h1v1h-1zM586 187h1v1h-1zM587 192h1v1h-1zM587 186h1v1h-1z"/>
<path fill="#00c000" d="M589 186h1v1h-1zM589 192h1v1h-1zM590 187h1v1h-1zM590 191h1v1h-1zM591 188h1v1h-1zM591 190h1v1h-1zM592 189h1v1h-1zM593 190h1v1h-1zM593 188h1v1h-1zM594 191h1v1h-1zM594 187h1v1h-1zM595 192h1v1h-1zM595 186h1v1h-1z"/>
<path fill="#00c000" d="M596 186h1v1h-1zM596 192h1v1h-1zM597 187h1v1h-1zM597 191h1v1h-1zM598 188h1v1h-1zM598 190h1v1h-1zM599 189h1v1h-1zM600 190h1v1h-1zM600 188h1v1h-1zM601 191h1v1h-1zM601 187h1v1h-1zM602 192h1v1h-1zM602 186h1v1h-1z"/>
<path fill="#00c000" d="M604 186h1v1h-1zM604 192h1v1h-1zM605 187h1v1h-1zM605 191h1v1h-1zM606 188h1v1h-1zM606 190h1v1h-1zM607 189h1v1h-1zM608 190h1v1h-1zM608 188h1v1h-1zM609 191h1v1h-1zM609 187h1v1h-1zM610 192h1v1h-1zM610 186h1v1h-1z"/>
<path fill="#00c000" d="M611 186h1v1h-1zM611 192h1v1h-1zM612 187h1v1h-1zM612 191h1v1h-1zM613 188h1v1h-1zM613 190h1v1h-1zM614 189h1v1h-1zM615 190h1v1h-1zM615 188h1v1h-1zM616 191h1v1h-1zM616 187h1v1h-1zM617 192h1v1h-1zM617 186h1v1h-1z"/>
<path fill="#ff0000" d="M585 49h7v1h-7zM588 46h1v7h-1z"/>
<path fill="#00c000" d="M585 59h1v1h-1zM585 65h1v1h-1zM586 60h1v1h-1zM586 64h1v1h-1zM587 61h1v1h-1zM587 63h1v1h-1zM588 62h1v1h-1zM589 63h1v1h-1zM589 61h1v1h-1zM590 64h1v1h-1zM590 60h1v1h-1zM591 65h1v1h-1zM591 59h1v1h-1z"/>
<rect x="58" y="39" width="561" height="1" fill="#000"/>
<rect x="58" y="213" width="561" height="1" fill="#000"/>
<rect x="58" y="39" width="1" height="175" fill="#000"/>
<rect x="618" y="39" width="1" height="175" fill="#000"/>
<rect x="58" y="213" width="5" height="1" fill="#000"/>
<rect x="614" y="213" width="5" height="1" fill="#000"/>
<rect x="58" y="191" width="5" height="1" fill="#000"/>
<rect x="614" y="191" width="5" height="1" fill="#000"/>
<rect x="58" y="169" width="5" height="1" fill="#000"/>
<rect x="614" y="169" width="5" height="1" fill="#000"/>
<rect x="58" y="148" width="5" height="1" fill="#000"/>
<rect x="614" y="148" width="5" height="1" fill="#000"/>
<rect x="58" y="126" width="5" height="1" fill="#000"/>
<rect x="614" y="126" width="5" height="1" fill="#000"/>
<rect x="58" y="104" width="5" height="1" fill="#000"/>
<rect x="614" y="104" width="5" height="1" fill="#000"/>
<rect x="58" y="82" width="5" height="1" fill="#000"/>
<rect x="614" y="82" width="5" height="1" fill="#000"/>
<rect x="58" y="61" width="5" height="1" fill="#000"/>
<rect x="614" y="61" width="5" height="1" fill="#000"/>
<rect x="58" y="39" width="5" height="1" fill="#000"/>
<rect x="614" y="39" width="5" height="1" fill="#000"/>
<rect x="58" y="209" width="1" height="5" fill="#000"/>
<rect x="58" y="39" width="1" height="5" fill="#000"/>
<rect x="114" y="209" width="1" height="5" fill="#000"/>
<rect x="114" y="39" width="1" height="5" fill="#000"/>
<rect x="170" y="209" width="1" height="5" fill="#000"/>
<rect x="170" y="39" width="1" height="5" fill="#000"/>
<rect x="226" y="209" width="1" height="5" fill="#000"/>
<rect x="226" y="39" width="1" height="5" fill="#000"/>
<rect x="282" y="209" width="1" height="5" fill="#000"/>
<rect x="282" y="39" width="1" height="5" fill="#000"/>
<rect x="338" y="209" width="1" height="5" fill="#000"/>
<rect x="338" y="39" width="1" height="5" fill="#000"/>
<rect x="394" y="209" width="1" height="5" fill="#000"/>
<rect x="394" y="39" width="1" height="5" fill="#000"/>
<rect x="450" y="209" width="1" height="5" fill="#000"/>
<rect x="450" y="39" width="1" height="5" fill="#000"/>
<rect x="506" y="209" width="1" height="5" fill="#000"/>
<rect x="506" y="39" width="1" height="5" fill="#000"/>
<rect x="562" y="209" width="1" height="5" fill="#000"/>
<rect x="562" y="39" width="1" height="5" fill="#000"/>
<rect x="618" y="209" width="1" height="5" fill="#000"/>
<rect x="618" y="39" width="1" height="5" fill="#000"/>
<path fill="#ff0000" d="M63 256h7v1h-7zM66 253h1v7h-1z"/>
<path fill="#ff0000" d="M70 257h7v1h-7zM73 254h1v7h-1z"/>
<path fill="#ff0000" d="M78 256h7v1h-7zM81 253h1v7h-1z"/>
<path fill="#ff0000" d="M85 256h7v1h-7zM88 253h1v7h-1z"/>
<path fill="#ff0000" d="M93 256h7v1h-7zM96 253h1v7h-1z"/>
<path fill="#ff0000" d="M100 256h7v1h-7zM103 253h1v7h-1z"/>
<path fill="#ff0000" d="M108 262h7v1h-7zM111 259h1v7h-1z"/>
<path fill="#ff0000" d="M115 277h7v1h-7zM118 274h1v7h-1z"/>
<path fill="#ff0000" d="M123 290h7v1h-7zM126 287h1v7h-1z"/>
<path fill="#ff0000" d="M130 290h7v1h-7zM133 287h1v7h-1z"/>
<path fill="#ff0000" d="M138 290h7v1h-7zM141 287h1v7h-1z"/>
<path fill="#ff0000" d="M145 290h7v1h-7zM148 287h1v7h-1z"/>
<path fill="#ff0000" d="M153 290h7v1h-7zM156 287h1v7h-1z"/>
<path fill="#ff0000" d="M160 290h7v1h-7zM163 287h1v7h-1z"/>
<path fill="#ff0000" d="M168 290h7v1h-7zM171 287h1v7h-1z"/>
<path fill="#ff0000" d="M175 290h7v1h-7zM178 287h1v7h-1z"/>
<path fill="#ff0000" d="M183 290h7v1h-7zM186 287h1v7h-1z"/>
<path fill="#ff0000" d="M190 290h7v1h-7zM193 287h1v7h-1z"/>
<path fill="#ff0000" d="M198 290h7v1h-7zM201 287h1v7h-1z"/>
<path fill="#ff0000" d="M205 290h7v1h-7zM208 287h1v7h-1z"/>
<path fill="#ff0000" d="M213 290h7v1h-7zM216 287h1v7h-1z"/>
<path fill="#ff0000" d="M220 290h7v1h-7zM223 287h1v7h-1z"/>
<path fill="#ff0000" d="M228 290h7v1h-7zM231 287h1v7h-1z"/>
<path fill="#ff0000" d="M235 290h7v1h-7zM238 287h1v7h-1z"/>
<path fill="#ff0000" d="M243 290h7v1h-7zM246 287h1v7h-1z"/>
<path fill="#ff0000" d="M250 290h7v1h-7zM253 287h1v7h-1z"/>
<path fill="#ff0000" d="M258 290h7v1h-7zM261 287h1v7h-1z"/>
<path fill="#ff0000" d="M265 290h7v1h-7zM268 287h1v7h-1z"/>
<path fill="#ff0000" d="M273 290h7v1h-7zM276 287h1v7h-1z"/>
<path fill="#ff0000" d="M280 290h7v1h-7zM283 287h1v7h-1z"/>
<path fill="#ff0000" d="M288 290h7v1h-7zM291 287h1v7h-1z"/>
<path fill="#ff0000" d="M296 291h7v1h-7zM299 288h1v7h-1z"/>
<path fill="#ff0000" d="M303 290h7v1h-7zM306 287h1v7h-1z"/>
<path fill="#ff0000" d="M311 290h7v1h-7zM314 287h1v7h-1z"/>
<path fill="#ff0000" d="M318 290h7v1h-7zM321 287h1v7h-1z"/>
<path fill="#ff0000" d="M326 290h7v1h-7zM329 287h1v7h-1z"/>
<path fill="#ff0000" d="M333 290h7v1h-7zM336 287h1v7h-1z"/>
<path fill="#ff0000" d="M341 290h7v1h-7zM344 287h1v7h-1z"/>
<path fill="#ff0000" d="M348 290h7v1h-7zM351 287h1v7h-1z"/>
<path fill="#ff0000" d="M356 290h7v1h-7zM359 287h1v7h-1z"/>
<path fill="#ff0000" d="M363 291h7v1h-7zM366 288h1v7h-1z"/>
<path fill="#ff0000" d="M371 291h7v1h-7zM374 288h1v7h-1z"/>
<path fill="#ff0000" d="M378 290h7v1h-7zM381 287h1v7h-1z"/>
<path fill="#ff0000" d="M386 290h7v1h-7zM389 287h1v7h-1z"/>
<path fill="#ff0000" d="M393 290h7v1h-7zM396 287h1v7h-1z"/>
<path fill="#ff0000" d="M401 290h7v1h-7zM404 287h1v7h-1z"/>
<path fill="#ff0000" d="M408 290h7v1h-7zM411 287h1v7h-1z"/>
<path fill="#ff0000" d="M416 290h7v1h-7zM419 287h1v7h-1z"/>
<path fill="#ff0000" d="M423 290h7v1h-7zM426 287h1v7h-1z"/>
<path fill="#ff0000" d="M431 290h7v1h-7zM434 287h1v7h-1z"/>
<path fill="#ff0000" d="M438 290h7v1h-7zM441 287h1v7h-1z"/>
<path fill="#ff0000" d="M446 290h7v1h-7zM449 287h1v7h-1z"/>
<path fill="#ff0000" d="M453 290h7v1h-7zM456 287h1v7h-1z"/>
<path fill="#ff0000" d="M461 290h7v1h-7zM464 287h1v7h-1z"/>
<path fill="#ff0000" d="M468 290h7v1h-7zM471 287h1v7h-1z"/>
<path fill="#ff0000" d="M476 290h7v1h-7zM479 287h1v7h-1z"/>
<path fill="#ff0000" d="M483 290h7v1h-7zM486 287h1v7h-1z"/>
<path fill="#ff0000" d="M491 290h7v1h-7zM494 287h1v7h-1z"/>
<path fill="#ff0000" d="M498 290h7v1h-7zM501 287h1v7h-1z"/>
<path fill="#ff0000" d="M506 290h7v1h-7zM509 287h1v7h-1z"/>
<path fill="#ff0000" d="M513 290h7v1h-7zM516 287h1v7h-1z"/>
<path fill="#ff0000" d="M521 290h7v1h-7zM524 287h1v7h-1z"/>
<path fill="#ff0000" d="M529 290h7v1h-7zM532 287h1v7h-1z"/>
<path fill="#ff0000" d="M536 290h7v1h-7zM539 287h1v7h-1z"/>
<path fill="#ff0000" d="M544 290h7v1h-7zM547 287h1v7h-1z"/>
<path fill="#ff0000" d="M551 290h7v1h-7zM554 287h1v7h-1z"/>
<path fill="#ff0000" d="M559 284h7v1h-7zM562 281h1v7h-1z"/>
<path fill="#ff0000" d="M566 260h7v1h-7zM569 257h1v7h-1z"/>
<path fill="#ff0000" d="M574 256h7v1h-7zM577 253h1v7h-1z"/>
<path fill="#ff0000" d="M581 256h7v1h-7zM584 253h1v7h-1z"/>
<path fill="#ff0000" d="M589 256h7v1h-7zM592 253h1v7h-1z"/>
<path fill="#ff0000" d="M596 256h7v1h-7zM599 253h1v7h-1z"/>
<path fill="#ff0000" d="M604 256h7v1h-7zM607 253h1v7h-1z"/>
<path fill="#ff0000" d="M611 256h7v1h-7zM614 253h1v7h-1z"/>
<path fill="#00c000" d="M63 409h1v1h-1zM63 415h1v1h-1zM64 410h1v1h-1zM64 414h1v1h-1zM65 411h1v1h-1zM65 413h1v1h-1zM66 412h1v1h-1zM67 413h1v1h-1zM67 411h1v1h-1zM68 414h1v1h-1zM68 410h1v1h-1zM69 415h1v1h-1zM69 409h1v1h-1z"/>
<path fill="#00c000" d="M70 409h1v1h-1zM70 415h1v1h-1zM71 410h1v1h-1zM71 414h1v1h-1zM72 411h1v1h-1zM72 413h1v1h-1zM73 412h1v1h-1zM74 413h1v1h-1zM74 411h1v1h-1zM75 414h1v1h-1zM75 410h1v1h-1zM76 415h1v1h-1zM76 409h1v1h-1z"/>
<path fill="#00c000" d="M78 409h1v1h-1zM78 415h1v1h-1zM79 410h1v1h-1zM79 414h1v1h-1zM80 411h1v1h-1zM80 413h1v1h-1zM81 412h1v1h-1zM82 413h1v1h-1zM82 411h1v1h-1zM83 414h1v1h-1zM83 410h1v1h-1zM84 415h1v1h-1zM84 409h1v1h-1z"/>
<path fill="#00c000" d="M85 409h1v1h-1zM85 415h1v1h-1zM86 410h1v1h-1zM86 414h1v1h-1zM87 411h1v1h-1zM87 413h1v1h-1zM88 412h1v1h-1zM89 413h1v1h-1zM89 411h1v1h-1zM90 414h1v1h-1zM90 410h1v1h-1zM91 415h1v1h-1zM91 409h1v1h-1z"/>
<path fill="#00c000" d="M93 409h1v1h-1zM93 415h1v1h-1zM94 410h1v1h-1zM94 414h1v1h-1zM95 411h1v1h-1zM95 413h1v1h-1zM96 412h1v1h-1zM97 413h1v1h-1zM97 411h1v1h-1zM98 414h1v1h-1zM98 410h1v1h-1zM99 415h1v1h-1zM99 409h1v1h-1z"/>
<path fill="#00c000" d="M100 409h1v1h-1zM100 415h1v1h-1zM101 410h1v1h-1zM101 414h1v1h-1zM102 411h1v1h-1zM102 413h1v1h-1zM103 412h1v1h-1zM104 413h1v1h-1zM104 411h1v1h-1zM105 414h1v1h-1zM105 410h1v1h-1zM106 415h1v1h-1zM106 409h1v1h-1z"/>
<path fill="#00c000" d="M108 412h1v1h-1zM108 418h1v1h-1zM109 413h1v1h-1zM109 417h1v1h-1zM110 414h1v1h-1zM110 416h1v1h-1zM111 415h1v1h-1zM112 416h1v1h-1zM112 414h1v1h-1zM113 417h1v1h-1zM113 413h1v1h-1zM114 418h1v1h-1zM114 412h1v1h-1z"/>
<path fill="#00c000" d="M115 418h1v1h-1zM115 424h1v1h-1zM116 419h1v1h-1zM116 423h1v1h-1zM117 420h1v1h-1zM117 422h1v1h-1zM118 421h1v1h-1zM119 422h1v1h-1zM119 420h1v1h-1zM120 423h1v1h-1zM120 419h1v1h-1zM121 424h1v1h-1zM121 418h1v1h-1z"/>
<path fill="#00c000" d="M123 423h1v1h-1zM123 429h1v1h-1zM124 424h1v1h-1zM124 428h1v1h-1zM125 425h1v1h-1zM125 427h1v1h-1zM126 426h1v1h-1zM127 427h1v1h-1zM127 425h1v1h-1zM128 428h1v1h-1zM128 424h1v1h-1zM129 429h1v1h-1zM129 423h1v1h-1z"/>
<path fill="#00c000" d="M130 423h1v1h-1zM130 429h1v1h-1zM131 424h1v1h-1zM131 428h1v1h-1zM132 425h1v1h-1zM132 427h1v1h-1zM133 426h1v1h-1zM134 427h1v1h-1zM134 425h1v1h-1zM135 428h1v1h-1zM135 424h1v1h-1zM136 429h1v1h-1zM136 423h1v1h-1z"/>
<path fill="#00c000" d="M138 423h1v1h-1zM138 429h1v1h-1zM139 424h1v1h-1zM139 428h1v1h-1zM140 425h1v1h-1zM140 427h1v1h-1zM141 426h1v1h-1zM142 427h1v1h-1zM142 425h1v1h-1zM143 428h1v1h-1zM143 424h1v1h-1zM144 429h1v1h-1zM144 423h1v1h-1z"/>
<path fill="#00c000" d="M145 423h1v1h-1zM145 429h1v1h-1zM146 424h1v1h-1zM146 428h1v1h-1zM147 425h1v1h-1zM147 427h1v1h-1zM148 426h1v1h-1zM149 427h1v1h-1zM149 425h1v1h-1zM150 428h1v1h-1zM150 424h1v1h-1zM151 429h1v1h-1zM151 423h1v1h-1z"/>
<path fill="#00c000" d="M153 423h1v1h-1zM153 429h1v1h-1zM154 424h1v1h-1zM154 428h1v1h-1zM155 425h1v1h-1zM155 427h1v1h-1zM156 426h1v1h-1zM157 427h1v1h-1zM157 425h1v1h-1zM158 428h1v1h-1zM158 424h1v1h-1zM159 429h1v1h-1zM159 423h1v1h-1z"/>
<path fill="#00c000" d="M160 423h1v1h-1zM160 429h1v1h-1zM161 424h1v1h-1zM161 428h1v1h-1zM162 425h1v1h-1zM162 427h1v1h-1zM163 426h1v1h-1zM164 427h1v1h-1zM164 425h1v1h-1zM165 428h1v1h-1zM165 424h1v1h-1zM166 429h1v1h-1zM166 423h1v1h-1z"/>
<path fill="#00c000" d="M168 423h1v1h-1zM168 429h1v1h-1zM169 424h1v1h-1zM169 428h1v1h-1zM170 425h1v1h-1zM170 427h1v1h-1zM171 426h1v1h-1zM172 427h1v1h-1zM172 425h1v1h-1zM173 428h1v1h-1zM173 424h1v1h-1zM174 429h1v1h-1zM174 423h1v1h-1z"/>
<path fill="#00c000" d="M175 423h1v1h-1zM175 429h1v1h-1zM176 424h1v1h-1zM176 428h1v1h-1zM177 425h1v1h-1zM177 427h1v1h-1zM178 426h1v1h-1zM179 427h1v1h-1zM179 425h1v1h-1zM180 428h1v1h-1zM180 424h1v1h-1zM181 429h1v1h-1zM181 423h1v1h-1z"/>
<path fill="#00c000" d="M183 423h1v1h-1zM183 429h1v1h-1zM184 424h1v1h-1zM184 428h1v1h-1zM185 425h1v1h-1zM185 427h1v1h-1zM186 426h1v1h-1zM187 427h1v1h-1zM187 425h1v1h-1zM188 428h1v1h-1zM188 424h1v1h-1zM189 429h1v1h-1zM189 423h1v1h-1z"/>
<path fill="#00c000" d="M190 424h1v1h-1zM190 430h1v1h-1zM191 425h1v1h-1zM191 429h1v1h-1zM192 426h1v1h-1zM192 428h1v1h-1zM193 427h1v1h-1zM194 428h1v1h-1zM194 426h1v1h-1zM195 429h1v1h-1zM195 425h1v1h-1zM196 430h1v1h-1zM196 424h1v1h-1z"/>
<path fill="#00c000" d="M198 423h1v1h-1zM198 429h1v1h-1zM199 424h1v1h-1zM199 428h1v1h-1zM200 425h1v1h-1zM200 427h1v1h-1zM201 426h1v1h-1zM202 427h1v1h-1zM202 425h1v1h-1zM203 428h1v1h-1zM203 424h1v1h-1zM204 429h1v1h-1zM204 423h1v1h-1z"/>
<path fill="#00c000" d="M205 424h1v1h-1zM205 430h1v1h-1zM206 425h1v1h-1zM206 429h1v1h-1zM207 426h1v1h-1zM207 428h1v1h-1zM208 427h1v1h-1zM209 428h1v1h-1zM209 426h1v1h-1zM210 429h1v1h-1zM210 425h1v1h-1zM211 430h1v1h-1zM211 424h1v1h-1z"/>
<path fill="#00c000" d="M213 423h1v1h-1zM213 429h1v1h-1zM214 424h1v1h-1zM214 428h1v1h-1zM215 425h1v1h-1zM215 427h1v1h-1zM216 426h1v1h-1zM217 427h1v1h-1zM217 425h1v1h-1zM218 428h1v1h-1zM218 424h1v1h-1zM219 429h1v1h-1zM219 423h1v1h-1z"/>
<path fill="#00c000" d="M220 424h1v1h-1zM220 430h1v1h-1zM221 425h1v1h-1zM221 429h1v1h-1zM222 426h1v1h-1zM222 428h1v1h-1zM223 427h1v1h-1zM224 428h1v1h-1zM224 426h1v1h-1zM225 429h1v1h-1zM225 425h1v1h-1zM226 430h1v1h-1zM226 424h1v1h-1z"/>
<path fill="#00c000" d="M228 423h1v1h-1zM228 429h1v1h-1zM229 424h1v1h-1zM229 428h1v1h-1zM230 425h1v1h-1zM230 427h1v1h-1zM231 426h1v1h-1zM232 427h1v1h-1zM232 425h1v1h-1zM233 428h1v1h-1zM233 424h1v1h-1zM234 429h1v1h-1zM234 423h1v1h-1z"/>
<path fill="#00c000" d="M235 423h1v1h-1zM235 429h1v1h-1zM236 424h1v1h-1zM236 428h1v1h-1zM237 425h1v1h-1zM237 427h1v1h-1zM238 426h1v1h-1zM239 427h1v1h-1zM239 425h1v1h-1zM240 428h1v1h-1zM240 424h1v1h-1zM241 429h1v1h-1zM241 423h1v1h-1z"/>
<path fill="#00c000" d="M243 423h1v1h-1zM243 429h1v1h-1zM244 424h1v1h-1zM244 428h1v1h-1zM245 425h1v1h-1zM245 427h1v1h-1zM246 426h1v1h-1zM247 427h1v1h-1zM247 425h1v1h-1zM248 428h1v1h-1zM248 424h1v1h-1zM249 429h1v1h-1zM249 423h1v1h-1z"/>
<path fill="#00c000" d="M250 423h1v1h-1zM250 429h1v1h-1zM251 424h1v1h-1zM251 428h1v1h-1zM252 425h1v1h-1zM252 427h1v1h-1zM253 426h1v1h-1zM254 427h1v1h-1zM254 425h1v1h-1zM255 428h1v1h-1zM255 424h1v1h-1zM256 429h1v1h-1zM256 423h1v1h-1z"/>
<path fill="#00c000" d="M258 423h1v1h-1zM258 429h1v1h-1zM259 424h1v1h-1zM259 428h1v1h-1zM260 425h1v1h-1zM260 427h1v1h-1zM261 426h1v1h-1zM262 427h1v1h-1zM262 425h1v1h-1zM263 428h1v1h-1zM263 424h1v1h-1zM264 429h1v1h-1zM264 423h1v1h-1z"/>
<path fill="#00c000" d="M265 423h1v1h-1zM265 429h1v1h-1zM266 424h1v1h-1zM266 428h1v1h-1zM267 425h1v1h-1zM267 427h1v1h-1zM268 426h1v1h-1zM269 427h1v1h-1zM269 425h1v1h-1zM270 428h1v1h-1zM270 424h1v1h-1zM271 429h1v1h-1zM271 423h1v1h-1z"/>
<path fill="#00c000" d="M273 423h1v1h-1zM273 429h1v1h-1zM274 424h1v1h-1zM274 428h1v1h-1zM275 425h1v1h-1zM275 427h1v1h-1zM276 426h1v1h-1zM277 427h1v1h-1zM277 425h1v1h-1zM278 428h1v1h-1zM278 424h1v1h-1zM279 429h1v1h-1zM279 423h1v1h-1z"/>
<path fill="#00c000" d="M280 423h1v1h-1zM280 429h1v1h-1zM281 424h1v1h-1zM281 428h1v1h-1zM282 425h1v1h-1zM282 427h1v1h-1zM283 426h1v1h-1zM284 427h1v1h-1zM284 425h1v1h-1zM285 428h1v1h-1zM285 424h1v1h-1zM286 429h1v1h-1zM286 423h1v1h-1z"/>
<path fill="#00c000" d="M288 423h1v1h-1zM288 429h1v1h-1zM289 424h1v1h-1zM289 428h1v1h-1zM290 425h1v1h-1zM290 427h1v1h-1zM291 426h1v1h-1zM292 427h1v1h-1zM292 425h1v1h-1zM293 428h1v1h-1zM293 424h1v1h-1zM294 429h1v1h-1zM294 423h1v1h-1z"/>
<path fill="#00c000" d="M296 423h1v1h-1zM296 429h1v1h-1zM297 424h1v1h-1zM297 428h1v1h-1zM298 425h1v1h-1zM298 427h1v1h-1zM299 426h1v1h-1zM300 427h1v1h-1zM300 425h1v1h-1zM301 428h1v1h-1zM301 424h1v1h-1zM302 429h1v1h-1zM302 423h1v1h-1z"/>
<path fill="#00c000" d="M303 423h1v1h-1zM303 429h1v1h-1zM304 424h1v1h-1zM304 428h1v1h-1zM305 425h1v1h-1zM305 427h1v1h-1zM306 426h1v1h-1zM307 427h1v1h-1zM307 425h1v1h-1zM308 428h1v1h-1zM308 424h1v1h-1zM309 429h1v1h-1zM309 423h1v1h-1z"/>
<path fill="#00c000" d="M311 423h1v1h-1zM311 429h1v1h-1zM312 424h1v1h-1zM312 428h1v1h-1zM313 425h1v1h-1zM313 427h1v1h-1zM314 426h1v1h-1zM315 427h1v1h-1zM315 425h1v1h-1zM316 428h1v1h-1zM316 424h1v1h-1zM317 429h1v1h-1zM317 423h1v1h-1z"/>
<path fill="#00c000" d="M318 423h1v1h-1zM318 429h1v1h-1zM319 424h1v1h-1zM319 428h1v1h-1zM320 425h1v1h-1zM320 427h1v1h-1zM321 426h1v1h-1zM322 427h1v1h-1zM322 425h1v1h-1zM323 428h1v1h-1zM323 424h1v1h-1zM324 429h1v1h-1zM324 423h1v1h-1z"/>
<path fill="#00c000" d="M326 423h1v1h-1zM326 429h1v1h-1zM327 424h1v1h-1zM327 428h1v1h-1zM328 425h1v1h-1zM328 427h1v1h-1zM329 426h1v1h-1zM330 427h1v1h-1zM330 425h1v1h-1zM331 428h1v1h-1zM331 424h1v1h-1zM332 429h1v1h-1zM332 423h1v1h-1z"/>
<path fill="#00c000" d="M333 423h1v1h-1zM333 429h1v1h-1zM334 424h1v1h-1zM334 428h1v1h-1zM335 425h1v1h-1zM335 427h1v1h-1zM336 426h1v1h-1zM337 427h1v1h-1zM337 425h1v1h-1zM338 428h1v1h-1zM338 424h1v1h-1zM339 429h1v1h-1zM339 423h1v1h-1z"/>
<path fill="#00c000" d="M341 423h1v1h-1zM341 429h1v1h-1zM342 424h1v1h-1zM342 428h1v1h-1zM343 425h1v1h-1zM343 427h1v1h-1zM344 426h1v1h-1zM345 427h1v1h-1zM345 425h1v1h-1zM346 428h1v1h-1zM346 424h1v1h-1zM347 429h1v1h-1zM347 423h1v1h-1z"/>
<path fill="#00c000" d="M348 423h1v1h-1zM348 429h1v1h-1zM349 424h1v1h-1zM349 428h1v1h-1zM350 425h1v1h-1zM350 427h1v1h-1zM351 426h1v1h-1zM352 427h1v1h-1zM352 425h1v1h-1zM353 428h1v1h-1zM353 424h1v1h-1zM354 429h1v1h-1zM354 423h1v1h-1z"/>
<path fill="#00c000" d="M356 423h1v1h-1zM356 429h1v1h-1zM357 424h1v1h-1zM357 428h1v1h-1zM358 425h1v1h-1zM358 427h1v1h-1zM359 426h1v1h-1zM360 427h1v1h-1zM360 425h1v1h-1zM361 428h1v1h-1zM361 424h1v1h-1zM362 429h1v1h-1zM362 423h1v1h-1z"/>
<path fill="#00c000" d="M363 423h1v1h-1zM363 429h1v1h-1zM364 424h1v1h-1zM364 428h1v1h-1zM365 425h1v1h-1zM365 427h1v1h-1zM366 426h1v1h-1zM367 427h1v1h-1zM367 425h1v1h-1zM368 428h1v1h-1zM368 424h1v1h-1zM369 429h1v1h-1zM369 423h1v1h-1z"/>
<path fill="#00c000" d="M371 424h1v1h-1zM371 430h1v1h-1zM372 425h1v1h-1zM372 429h1v1h-1zM373 426h1v1h-1zM373 428h1v1h-1zM374 427h1v1h-1zM375 428h1v1h-1zM375 426h1v1h-1zM376 429h1v1h-1zM376 425h1v1h-1zM377 430h1v1h-1zM377 424h1v1h-1z"/>
<path fill="#00c000" d="M378 424h1v1h-1zM378 430h1v1h-1zM379 425h1v1h-1zM379 429h1v1h-1zM380 426h1v1h-1zM380 428h1v1h-1zM381 427h1v1h-1zM382 428h1v1h-1zM382 426h1v1h-1zM383 429h1v1h-1zM383 425h1v1h-1zM384 430h1v1h-1zM384 424h1v1h-1z"/>
<path fill="#00c000" d="M386 423h1v1h-1zM386 429h1v1h-1zM387 424h1v1h-1zM387 428h1v1h-1zM388 425h1v1h-1zM388 427h1v1h-1zM389 426h1v1h-1zM390 427h1v1h-1zM390 425h1v1h-1zM391 428h1v1h-1zM391 424h1v1h-1zM392 429h1v1h-1zM392 423h1v1h-1z"/>
<path fill="#00c000" d="M393 423h1v1h-1zM393 429h1v1h-1zM394 424h1v1h-1zM394 428h1v1h-1zM395 425h1v1h-1zM395 427h1v1h-1zM396 426h1v1h-1zM397 427h1v1h-1zM397 425h1v1h-1zM398 428h1v1h-1zM398 424h1v1h-1zM399 429h1v1h-1zM399 423h1v1h-1z"/>
<path fill="#00c000" d="M401 423h1v1h-1zM401 429h1v1h-1zM402 424h1v1h-1zM402 428h1v1h-1zM403 425h1v1h-1zM403 427h1v1h-1zM404 426h1v1h-1zM405 427h1v1h-1zM405 425h1v1h-1zM406 428h1v1h-1zM406 424h1v1h-1zM407 429h1v1h-1zM407 423h1v1h-1z"/>
<path fill="#00c000" d="M408 424h1v1h-1zM408 430h1v1h-1zM409 425h1v1h-1zM409 429h1v1h-1zM410 426h1v1h-1zM410 428h1v1h-1zM411 427h1v1h-1zM412 428h1v1h-1zM412 426h1v1h-1zM413 429h1v1h-1zM413 425h1v1h-1zM414 430h1v1h-1zM414 424h1v1h-1z"/>
<path fill="#00c000" d="M416 424h1v1h-1zM416 430h1v1h-1zM417 425h1v1h-1zM417 429h1v1h-1zM418 426h1v1h-1zM418 428h1v1h-1zM419 427h1v1h-1zM420 428h1v1h-1zM420 426h1v1h-1zM421 429h1v1h-1zM421 425h1v1h-1zM422 430h1v1h-1zM422 424h1v1h-1z"/>
<path fill="#00c000" d="M423 423h1v1h-1zM423 429h1v1h-1zM424 424h1v1h-1zM424 428h1v1h-1zM425 425h1v1h-1zM425 427h1v1h-1zM426 426h1v1h-1zM427 427h1v1h-1zM427 425h1v1h-1zM428 428h1v1h-1zM428 424h1v1h-1zM429 429h1v1h-1zM429 423h1v1h-1z"/>
<path fill="#00c000" d="M431 424h1v1h-1zM431 430h1v1h-1zM432 425h1v1h-1zM432 429h1v1h-1zM433 426h1v1h-1zM433 428h1v1h-1zM434 427h1v1h-1zM435 428h1v1h-1zM435 426h1v1h-1zM436 429h1v1h-1zM436 425h1v1h-1zM437 430h1v1h-1zM437 424h1v1h-1z"/>
<path fill="#00c000" d="M438 423h1v1h-1zM438 429h1v1h-1zM439 424h1v1h-1zM439 428h1v1h-1zM440 425h1v1h-1zM440 427h1v1h-1zM441 426h1v1h-1zM442 427h1v1h-1zM442 425h1v1h-1zM443 428h1v1h-1zM443 424h1v1h-1zM444 429h1v1h-1zM444 423h1v1h-1z"/>
<path fill="#00c000" d="M446 423h1v1h-1zM446 429h1v1h-1zM447 424h1v1h-1zM447 428h1v1h-1zM448 425h1v1h-1zM448 427h1v1h-1zM449 426h1v1h-1zM450 427h1v1h-1zM450 425h1v1h-1zM451 428h1v1h-1zM451 424h1v1h-1zM452 429h1v1h-1zM452 423h1v1h-1z"/>
<path fill="#00c000" d="M453 424h1v1h-1zM453 430h1v1h-1zM454 425h1v1h-1zM454 429h1v1h-1zM455 426h1v1h-1zM455 428h1v1h-1zM456 427h1v1h-1zM457 428h1v1h-1zM457 426h1v1h-1zM458 429h1v1h-1zM458 425h1v1h-1zM459 430h1v1h-1zM459 424h1v1h-1z"/>
<path fill="#00c000" d="M461 423h1v1h-1zM461 429h1v1h-1zM462 424h1v1h-1zM462 428h1v1h-1zM463 425h1v1h-1zM463 427h1v1h-1zM464 426h1v1h-1zM465 427h1v1h-1zM465 425h1v1h-1zM466 428h1v1h-1zM466 424h1v1h-1zM467 429h1v1h-1zM467 423h1v1h-1z"/>
<path fill="#00c000" d="M468 423h1v1h-1zM468 429h1v1h-1zM469 424h1v1h-1zM469 428h1v1h-1zM470 425h1v1h-1zM470 427h1v1h-1zM471 426h1v1h-1zM472 427h1v1h-1zM472 425h1v1h-1zM473 428h1v1h-1zM473 424h1v1h-1zM474 429h1v1h-1zM474 423h1v1h-1z"/>
<path fill="#00c000" d="M476 423h1v1h-1zM476 429h1v1h-1zM477 424h1v1h-1zM477 428h1v1h-1zM478 425h1v1h-1zM478 427h1v1h-1zM479 426h1v1h-1zM480 427h1v1h-1zM480 425h1v1h-1zM481 428h1v1h-1zM481 424h1v1h-1zM482 429h1v1h-1zM482 423h1v1h-1z"/>
<path fill="#00c000" d="M483 423h1v1h-1zM483 429h1v1h-1zM484 424h1v1h-1zM484 428h1v1h-1zM485 425h1v1h-1zM485 427h1v1h-1zM486 426h1v1h-1zM487 427h1v1h-1zM487 425h1v1h-1zM488 428h1v1h-1zM488 424h1v1h-1zM489 429h1v1h-1zM489 423h1v1h-1z"/>
<path fill="#00c000" d="M491 423h1v1h-1zM491 429h1v1h-1zM492 424h1v1h-1zM492 428h1v1h-1zM493 425h1v1h-1zM493 427h1v1h-1zM494 426h1v1h-1zM495 427h1v1h-1zM495 425h1v1h-1zM496 428h1v1h-1zM496 424h1v1h-1zM497 429h1v1h-1zM497 423h1v1h-1z"/>
<path fill="#00c000" d="M498 424h1v1h-1zM498 430h1v1h-1zM499 425h1v1h-1zM499 429h1v1h-1zM500 426h1v1h-1zM500 428h1v1h-1zM501 427h1v1h-1zM502 428h1v1h-1zM502 426h1v1h-1zM503 429h1v1h-1zM503 425h1v1h-1zM504 430h1v1h-1zM504 424h1v1h-1z"/>
<path fill="#00c000" d="M506 424h1v1h-1zM506 430h1v1h-1zM507 425h1v1h-1zM507 429h1v1h-1zM508 426h1v1h-1zM508 428h1v1h-1zM509 427h1v1h-1zM510 428h1v1h-1zM510 426h1v1h-1zM511 429h1v1h-1zM511 425h1v1h-1zM512 430h1v1h-1zM512 424h1v1h-1z"/>
<path fill="#00c000" d="M513 424h1v1h-1zM513 430h1v1h-1zM514 425h1v1h-1zM514 429h1v1h-1zM515 426h1v1h-1zM515 428h1v1h-1zM516 427h1v1h-1zM517 428h1v1h-1zM517 426h1v1h-1zM518 429h1v1h-1zM518 425h1v1h-1zM519 430h1v1h-1zM519 424h1v1h-1z"/>
<path fill="#00c000" d="M521 424h1v1h-1zM521 430h1v1h-1zM522 425h1v1h-1zM522 429h1v1h-1zM523 426h1v1h-1zM523 428h1v1h-1zM524 427h1v1h-1zM525 428h1v1h-1zM525 426h1v1h-1zM526 429h1v1h-1zM526 425h1v1h-1zM527 430h1v1h-1zM527 424h1v1h-1z"/>
<path fill="#00c000" d="M529 424h1v1h-1zM529 430h1v1h-1zM530 425h1v1h-1zM530 429h1v1h-1zM531 426h1v1h-1zM531 428h1v1h-1zM532 427h1v1h-1zM533 428h1v1h-1zM533 426h1v1h-1zM534 429h1v1h-1zM534 425h1v1h-1zM535 430h1v1h-1zM535 424h1v1h-1z"/>
<path fill="#00c000" d="M536 423h1v1h-1zM536 429h1v1h-1zM537 424h1v1h-1zM537 428h1v1h-1zM538 425h1v1h-1zM538 427h1v1h-1zM539 426h1v1h-1zM540 427h1v1h-1zM540 425h1v1h-1zM541 428h1v1h-1zM541 424h1v1h-1zM542 429h1v1h-1zM542 423h1v1h-1z"/>
<path fill="#00c000" d="M544 424h1v1h-1zM544 430h1v1h-1zM545 425h1v1h-1zM545 429h1v1h-1zM546 426h1v1h-1zM546 428h1v1h-1zM547 427h1v1h-1zM548 428h1v1h-1zM548 426h1v1h-1zM549 429h1v1h-1zM549 425h1v1h-1zM550 430h1v1h-1zM550 424h1v1h-1z"/>
<path fill="#00c000" d="M551 424h1v1h-1zM551 430h1v1h-1zM552 425h1v1h-1zM552 429h1v1h-1zM553 426h1v1h-1zM553 428h1v1h-1zM554 427h1v1h-1zM555 428h1v1h-1zM555 426h1v1h-1zM556 429h1v1h-1zM556 425h1v1h-1zM557 430h1v1h-1zM557 424h1v1h-1z"/>
<path fill="#00c000" d="M559 421h1v1h-1zM559 427h1v1h-1zM560 422h1v1h-1zM560 426h1v1h-1zM561 423h1v1h-1zM561 425h1v1h-1zM562 424h1v1h-1zM563 425h1v1h-1zM563 423h1v1h-1zM564 426h1v1h-1zM564 422h1v1h-1zM565 427h1v1h-1zM565 421h1v1h-1z"/>
<path fill="#00c000" d="M566 411h1v1h-1zM566 417h1v1h-1zM567 412h1v1h-1zM567 416h1v1h-1zM568 413h1v1h-1zM568 415h1v1h-1zM569 414h1v1h-1zM570 415h1v1h-1zM570 413h1v1h-1zM571 416h1v1h-1zM571 412h1v1h-1zM572 417h1v1h-1zM572 411h1v1h-1z"/>
<path fill="#00c000" d="M574 409h1v1h-1zM574 415h1v1h-1zM575 410h1v1h-1zM575 414h1v1h-1zM576 411h1v1h-1zM576 413h1v1h-1zM577 412h1v1h-1zM578 413h1v1h-1zM578 411h1v1h-1zM579 414h1v1h-1zM579 410h1v1h-1zM580 415h1v1h-1zM580 409h1v1h-1z"/>
<path fill="#00c000" d="M581 409h1v1h-1zM581 415h1v1h-1zM582 410h1v1h-1zM582 414h1v1h-1zM583 411h1v1h-1zM583 413h1v1h-1zM584 412h1v1h-1zM585 413h1v1h-1zM585 411h1v1h-1zM586 414h1v1h-1zM586 410h1v1h-1zM587 415h1v1h-1zM587 409h1v1h-1z"/>
<path fill="#00c000" d="M589 409h1v1h-1zM589 415h1v1h-1zM590 410h1v1h-1zM590 414h1v1h-1zM591 411h1v1h-1zM591 413h1v1h-1zM592 412h1v1h-1zM593 413h1v1h-1zM593 411h1v1h-1zM594 414h1v1h-1zM594 410h1v1h-1zM595 415h1v1h-1zM595 409h1v1h-1z"/>
<path fill="#00c000" d="M596 409h1v1h-1zM596 415h1v1h-1zM597 410h1v1h-1zM597 414h1v1h-1zM598 411h1v1h-1zM598 413h1v1h-1zM599 412h1v1h-1zM600 413h1v1h-1zM600 411h1v1h-1zM601 414h1v1h-1zM601 410h1v1h-1zM602 415h1v1h-1zM602 409h1v1h-1z"/>
<path fill="#00c000" d="M604 409h1v1h-1zM604 415h1v1h-1zM605 410h1v1h-1zM605 414h1v1h-1zM606 411h1v1h-1zM606 413h1v1h-1zM607 412h1v1h-1zM608 413h1v1h-1zM608 411h1v1h-1zM609 414h1v1h-1zM609 410h1v1h-1zM610 415h1v1h-1zM610 409h1v1h-1z"/>
<path fill="#00c000" d="M611 409h1v1h-1zM611 415h1v1h-1zM612 410h1v1h-1zM612 414h1v1h-1zM613 411h1v1h-1zM613 413h1v1h-1zM614 412h1v1h-1zM615 413h1v1h-1zM615 411h1v1h-1zM616 414h1v1h-1zM616 410h1v1h-1zM617 415h1v1h-1zM617 409h1v1h-1z"/>
<path fill="#ff0000" d="M585 263h7v1h-7zM588 260h1v7h-1z"/>
<path fill="#00c000" d="M585 273h1v1h-1zM585 279h1v1h-1zM586 274h1v1h-1zM586 278h1v1h-1zM587 275h1v1h-1zM587 277h1v1h-1zM588 276h1v1h-1zM589 277h1v1h-1zM589 275h1v1h-1zM590 278h1v1h-1zM590 274h1v1h-1zM591 279h1v1h-1zM591 273h1v1h-1z"/>
<rect x="58" y="253" width="561" height="1" fill="#000"/>
<rect x="58" y="438" width="561" height="1" fill="#000"/>
<rect x="58" y="253" width="1" height="186" fill="#000"/>
<rect x="618" y="253" width="1" height="186" fill="#000"/>
<rect x="58" y="438" width="5" height="1" fill="#000"/>
<rect x="614" y="438" width="5" height="1" fill="#000"/>
<rect x="58" y="415" width="5" height="1" fill="#000"/>
<rect x="614" y="415" width="5" height="1" fill="#000"/>
<rect x="58" y="392" width="5" height="1" fill="#000"/>
<rect x="614" y="392" width="5" height="1" fill="#000"/>
<rect x="58" y="369" width="5" height="1" fill="#000"/>
<rect x="614" y="369" width="5" height="1" fill="#000"/>
<rect x="58" y="345" width="5" height="1" fill="#000"/>
<rect x="614" y="345" width="5" height="1" fill="#000"/>
<rect x="58" y="322" width="5" height="1" fill="#000"/>
<rect x="614" y="322" width="5" height="1" fill="#000"/>
<rect x="58" y="299" width="5" height="1" fill="#000"/>
<rect x="614" y="299" width="5" height="1" fill="#000"/>
<rect x="58" y="276" width="5" height="1" fill="#000"/>
<rect x="614" y="276" width="5" height="1" fill="#000"/>
<rect x="58" y="253" width="5" height="1" fill="#000"/>
<rect x="614" y="253" width="5" height="1" fill="#000"/>
<rect x="58" y="434" width="1" height="5" fill="#000"/>
<rect x="58" y="253" width="1" height="5" fill="#000"/>
<rect x="114" y="434" width="1" height="5" fill="#000"/>
<rect x="114" y="253" width="1" height="5" fill="#000"/>
<rect x="170" y="434" width="1" height="5" fill="#000"/>
<rect x="170" y="253" width="1" height="5" fill="#000"/>
<rect x="226" y="434" width="1" height="5" fill="#000"/>
<rect x="226" y="253" width="1" height="5" fill="#000"/>
<rect x="282" y="434" width="1" height="5" fill="#000"/>
<rect x="282" y="253" width="1" height="5" fill="#000"/>
<rect x="338" y="434" width="1" height="5" fill="#000"/>
<rect x="338" y="253" width="1" height="5" fill="#000"/>
<rect x="394" y="434" width="1" height="5" fill="#000"/>
<rect x="394" y="253" width="1" height="5" fill="#000"/>
<rect x="450" y="434" width="1" height="5" fill="#000"/>
<rect x="450" y="253" width="1" height="5" fill="#000"/>
<rect x="506" y="434" width="1" height="5" fill="#000"/>
<rect x="506" y="253" width="1" height="5" fill="#000"/>
<rect x="562" y="434" width="1" height="5" fill="#000"/>
<rect x="562" y="253" width="1" height="5" fill="#000"/>
<rect x="618" y="434" width="1" height="5" fill="#000"/>
<rect x="618" y="253" width="1" height="5" fill="#000"/>
</svg>
</div></body></html>
